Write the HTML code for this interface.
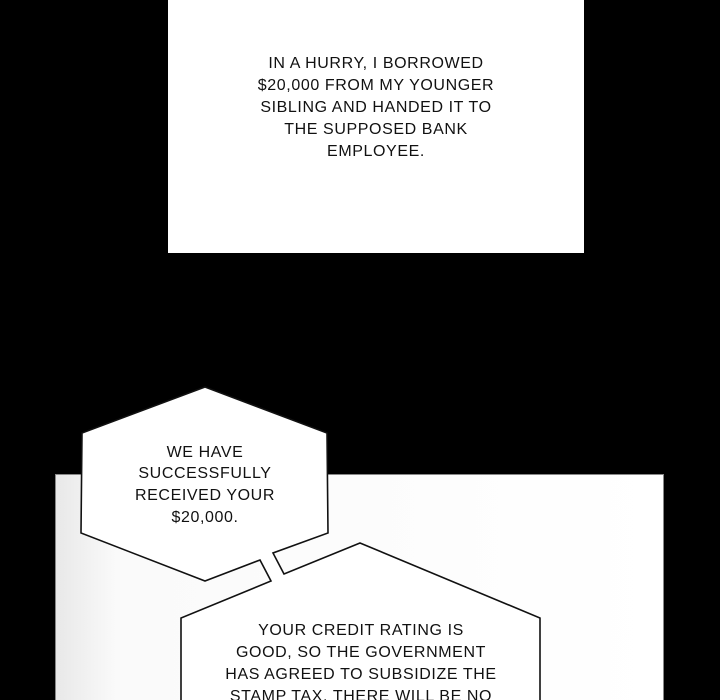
<!DOCTYPE html>
<html><head><meta charset="utf-8"><style>
html,body{margin:0;padding:0;background:#000;width:720px;height:700px;overflow:hidden}
svg{display:block}
text{font-family:"Liberation Sans",sans-serif;font-size:16px;fill:#111;text-anchor:middle;letter-spacing:0.6px}
</style></head><body>
<svg width="720" height="700" viewBox="0 0 720 700">
<defs>
<linearGradient id="g" x1="0" y1="0" x2="1" y2="0">
<stop offset="0" stop-color="#e8e8e8"/><stop offset="0.1" stop-color="#fafafa"/><stop offset="1" stop-color="#fff"/>
</linearGradient>
</defs>
<rect width="720" height="700" fill="#000"/>
<rect x="168" y="0" width="416" height="253" fill="#fff"/>
<text x="376" y="68">IN A HURRY, I BORROWED</text>
<text x="376" y="90">$20,000 FROM MY YOUNGER</text>
<text x="376" y="112">SIBLING AND HANDED IT TO</text>
<text x="376" y="134">THE SUPPOSED BANK</text>
<text x="376" y="156">EMPLOYEE.</text>
<rect x="55.5" y="474.5" width="608" height="240" fill="url(#g)" stroke="#888" stroke-width="1"/>
<path d="M205,387 L327,433 L328,533 L273,553 L284,574 L360,543 L540,618 L540,710 L181,710 L181,618 L271,581 L260,560 L205,581 L81,533 L82,433 Z" fill="#fff" stroke="#111" stroke-width="1.6" stroke-linejoin="miter"/>
<text x="205" y="457">WE HAVE</text>
<text x="205" y="478">SUCCESSFULLY</text>
<text x="205" y="500">RECEIVED YOUR</text>
<text x="205" y="522">$20,000.</text>
<text x="361" y="635">YOUR CREDIT RATING IS</text>
<text x="361" y="657">GOOD, SO THE GOVERNMENT</text>
<text x="361" y="679">HAS AGREED TO SUBSIDIZE THE</text>
<text x="361" y="701">STAMP TAX. THERE WILL BE NO</text>
</svg>
</body></html>
